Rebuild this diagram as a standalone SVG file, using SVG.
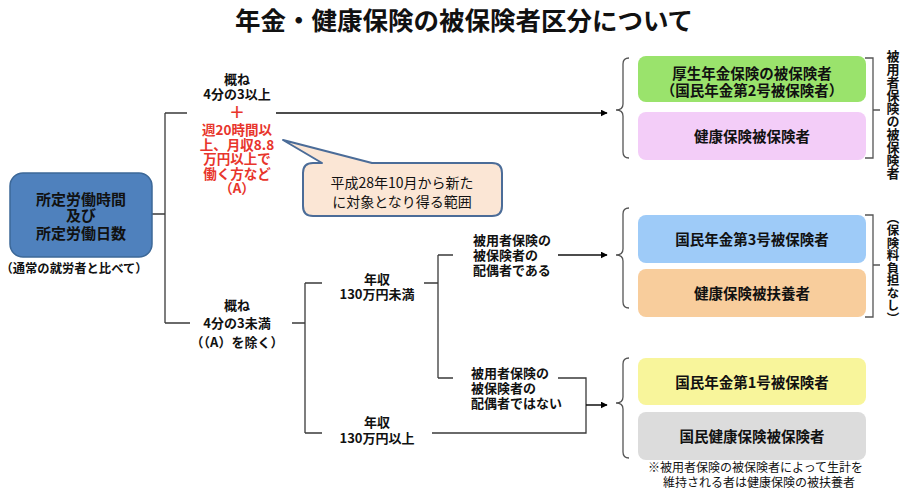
<svg xmlns="http://www.w3.org/2000/svg" width="916" height="498" viewBox="0 0 916 498">
<defs>
<marker id="arr" viewBox="0 0 10 10" refX="9" refY="5" markerWidth="7" markerHeight="7" markerUnits="userSpaceOnUse" orient="auto"><path d="M0,0 L10,5 L0,10 Z" fill="#000"/></marker>
<style>
text{font-family:"Noto Sans CJK JP","Noto Sans CJK SC",sans-serif;fill:#111}
.b{font-weight:bold}
.c{text-anchor:middle}
.t{font-size:13px;font-weight:bold;text-anchor:middle}
.r{fill:#E8352C;font-size:13.5px;font-weight:bold;text-anchor:middle}
.s{font-size:13px;font-weight:bold}
.bx{font-size:14.5px;font-weight:bold;text-anchor:middle}
.ln{fill:none;stroke:#3a3a3a;stroke-width:1.3}
.ar{fill:none;stroke:#111;stroke-width:1.5;marker-end:url(#arr)}
.br{fill:none;stroke:#555;stroke-width:1.3}
.v{writing-mode:vertical-rl;font-weight:bold;text-anchor:middle}
</style>
</defs>
<rect width="916" height="498" fill="#fff"/>
<text x="464" y="30" class="b c" style="font-size:25.5px">年金・健康保険の被保険者区分について</text>

<g id="connectors">
<path class="ln" d="M152,214 H165 M165,113 V323 M165,113 H187 M165,323 H190 M292,323 H305 M305,283 V433 M305,283 H322 M305,433 H322 M424,283 H438 M438,255 V378 M438,255 H453 M438,378 H453 M558,378 H586 V433 H432"/>
<path class="ar" d="M276,113 H607"/>
<path class="ar" d="M558,255 H607"/>
<path class="ar" d="M586,405 H607"/>
<path class="br" d="M629,58 Q623,58 623,64 V104 Q623,110 616,110 Q623,110 623,116 V152 Q623,158 629,158"/>
<path class="br" d="M629,208 Q623,208 623,214 V249 Q623,255 616,255 Q623,255 623,261 V302 Q623,308 629,308"/>
<path class="br" d="M629,358 Q623,358 623,364 V397 Q623,403 616,403 Q623,403 623,409 V452 Q623,458 629,458"/>
<path class="br" d="M865,58 H873 V158 H865 M873,110 H880"/>
<path class="br" d="M865,215 H873 V317 H865 M873,265 H880"/>
</g>

<g id="n-base">
<rect x="10" y="173" width="142" height="84" rx="13" fill="#4F81BD" stroke="#3C6898" stroke-width="1.5"/>
<text x="81" y="205" class="b c" style="font-size:15px">所定労働時間</text>
<text x="81" y="221" class="b c" style="font-size:15px">及び</text>
<text x="81" y="239" class="b c" style="font-size:15px">所定労働日数</text>
<text x="74" y="273" class="b c" style="font-size:12.3px">（通常の就労者と比べて）</text>
</g>

<g id="n-over34">
<text x="237" y="84" class="t">概ね</text>
<text x="237" y="99" class="t">4分の3以上</text>
<text x="237" y="118" class="r" style="font-size:16px">＋</text>
<text x="237" y="135" class="r">週20時間以</text>
<text x="237" y="149.5" class="r">上、月収8.8</text>
<text x="237" y="164" class="r">万円以上で</text>
<text x="237" y="178.5" class="r">働く方など</text>
<text x="237" y="193" class="r">（A）</text>
</g>

<g id="n-callout">
<path d="M313,163 H322 L283,140 L372,163 H492 Q502,163 502,173 V206 Q502,216 492,216 H313 Q303,216 303,206 V173 Q303,163 313,163 Z" fill="#FBE6D5" stroke="#4B6C98" stroke-width="2" stroke-linejoin="round"/>
<text x="402" y="188" class="c" style="font-size:14px">平成28年10月から新た</text>
<text x="402" y="207" class="c" style="font-size:14px">に対象となり得る範囲</text>
</g>

<g id="n-under34">
<text x="237" y="310" class="t">概ね</text>
<text x="237" y="328" class="t">4分の3未満</text>
<text x="237" y="347" class="t">（（A）を除く）</text>
</g>

<g id="n-under130">
<text x="377" y="284" class="s c">年収</text>
<text x="377" y="299" class="s c">130万円未満</text>
</g>

<g id="n-over130">
<text x="377" y="427" class="s c">年収</text>
<text x="377" y="443" class="s c">130万円以上</text>
</g>

<g id="n-spouse">
<text x="473" y="245" class="s">被用者保険の</text>
<text x="473" y="260" class="s">被保険者の</text>
<text x="473" y="275" class="s">配偶者である</text>
</g>

<g id="n-notspouse">
<text x="471" y="378" class="s">被用者保険の</text>
<text x="471" y="393" class="s">被保険者の</text>
<text x="471" y="408" class="s">配偶者ではない</text>
</g>

<g id="n-kosei">
<rect x="638" y="56" width="228" height="46" rx="8" fill="#9AE36C"/>
<text x="752" y="79" class="bx">厚生年金保険の被保険者</text>
<text x="752" y="96" class="bx">（国民年金第2号被保険者）</text>
</g>
<g id="n-kenpo">
<rect x="638" y="112" width="228" height="48" rx="8" fill="#F3CDF8"/>
<text x="752" y="142" class="bx">健康保険被保険者</text>
</g>
<g id="n-no3">
<rect x="638" y="215" width="228" height="48" rx="8" fill="#9ECBF8"/>
<text x="752" y="245" class="bx">国民年金第3号被保険者</text>
</g>
<g id="n-fuyo">
<rect x="638" y="269" width="228" height="48" rx="8" fill="#F8CD9C"/>
<text x="752" y="299" class="bx">健康保険被扶養者</text>
</g>
<g id="n-no1">
<rect x="638" y="358" width="228" height="47" rx="8" fill="#F8F59B"/>
<text x="752" y="388" class="bx">国民年金第1号被保険者</text>
</g>
<g id="n-kokuho">
<rect x="638" y="412" width="228" height="48" rx="8" fill="#DCDCDC"/>
<text x="752" y="442" class="bx">国民健康保険被保険者</text>
</g>

<g id="n-note">
<text x="648" y="472" style="font-size:12px">※被用者保険の被保険者によって生計を</text>
<text x="663" y="487" style="font-size:12px">維持される者は健康保険の被扶養者</text>
</g>

<g id="n-label1">
<text x="893" y="115" class="v" style="font-size:13px">被用者保険の被保険者</text>
</g>
<g id="n-label2">
<text x="893" y="268" class="v" style="font-size:12.5px">（保険料負担なし）</text>
</g>
</svg>
